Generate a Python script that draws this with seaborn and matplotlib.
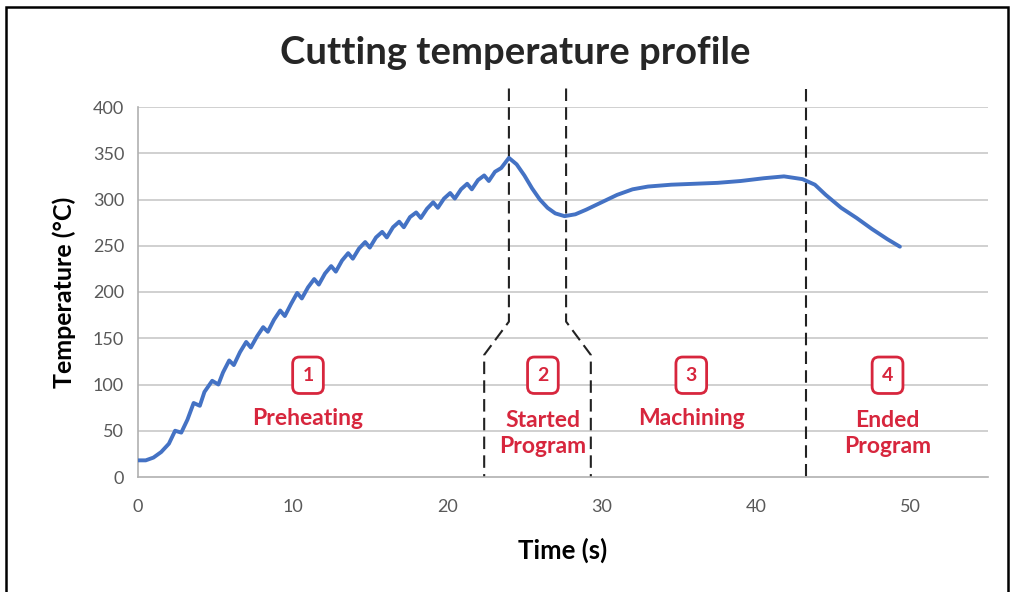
import numpy as np
import pandas as pd
import matplotlib
matplotlib.use('Agg')
import matplotlib.pyplot as plt
import seaborn as sns
from matplotlib.patches import Rectangle

# 데이터
time_s = [0, 0.5, 1, 1.5, 2, 2.4, 2.8, 3.2, 3.6, 4.0, 4.3, 4.8, 5.2, 5.5, 5.9, 6.2, 6.6, 7.0, 7.3,
          7.7, 8.1, 8.4, 8.8, 9.2, 9.5, 9.9, 10.3, 10.6, 11.0, 11.4, 11.7, 12.1, 12.5, 12.8,
          13.2, 13.6, 13.9, 14.3, 14.7, 15.0, 15.4, 15.8, 16.1, 16.5, 16.9, 17.2, 17.6, 18.0,
          18.3, 18.7, 19.1, 19.4, 19.8, 20.2, 20.5, 20.9, 21.3, 21.6, 22.0, 22.4, 22.7, 23.1,
          23.5, 24.0, 24.5, 25.0, 25.5, 26.0, 26.5, 27.0, 27.6, 28.3, 29.0, 30.0, 31.0, 32.0,
          33.0, 34.5, 36.0, 37.5, 39.0, 40.5, 41.8, 43.0, 43.8, 44.5, 45.5, 46.5, 47.5, 48.5, 49.3]
temp_c = [18, 18, 21, 27, 36, 50, 48, 62, 80, 77, 92, 104, 100, 113, 126, 121, 135, 146, 140,
          152, 162, 157, 170, 180, 174, 187, 199, 193, 205, 214, 208, 220, 228, 222, 234, 242,
          236, 247, 254, 248, 259, 265, 259, 270, 276, 270, 281, 286, 280, 290, 297, 291, 301,
          307, 301, 311, 317, 311, 321, 326, 320, 330, 334, 345, 338, 326, 312, 300, 291, 285,
          282, 284, 289, 297, 305, 311, 314, 316, 317, 318, 320, 323, 325, 322, 316, 305, 291,
          280, 268, 257, 249]

phase_x = [11.0, 26.2, 35.8, 48.5]
phase_num = ['1', '2', '3', '4']
phase_name = ['Preheating', 'Started\nProgram', 'Machining', 'Ended\nProgram']

# 구간 경계선 (꺾인 점선 포함)
bound_a_x = [24.0, 24.0, 22.4, 22.4]
bound_a_y = [420, 168, 132, 0]
bound_b_x = [27.7, 27.7, 29.3, 29.3]
bound_b_y = [420, 168, 132, 0]
bound_c_x = [43.2, 43.2]
bound_c_y = [420, 0]

df = pd.DataFrame({'Time': time_s, 'Temp': temp_c})

sns.set_style('white')
plt.rcParams['font.family'] = ['Lato', 'DejaVu Sans']

fig = plt.figure(figsize=(10.15, 5.92), dpi=100)
ax = fig.add_axes([138 / 1015, 1 - 477 / 592, 850 / 1015, 370 / 592])

for yv in range(50, 401, 50):
    ax.axhline(yv, color='#c8c8c8', lw=1.2, zorder=0)

sns.lineplot(data=df, x='Time', y='Temp', ax=ax, color='#4472C4', lw=2.8, zorder=3)

for bx, by in [(bound_a_x, bound_a_y), (bound_b_x, bound_b_y), (bound_c_x, bound_c_y)]:
    ax.plot(bx, by, color='#222222', lw=1.5, ls=(0, (6, 3)), clip_on=False, zorder=2)

red = '#d7263d'
for px, num, name in zip(phase_x, phase_num, phase_name):
    ax.text(px, 110, num, color=red, fontsize=14, fontweight='bold', ha='center', va='center',
            bbox=dict(boxstyle='round,pad=0.5,rounding_size=0.35', fc='white', ec=red, lw=2))
    if '\n' in name:
        ax.text(px, 47, name, color=red, fontsize=16.5, fontweight='bold', ha='center', va='center',
                linespacing=1.3)
    else:
        ax.text(px, 63, name, color=red, fontsize=16.5, fontweight='bold', ha='center', va='center')

ax.set_xlim(0, 55)
ax.set_ylim(0, 400)
ax.set_xticks([0, 10, 20, 30, 40, 50])
ax.set_yticks(range(0, 401, 50))
ax.tick_params(axis='both', colors='#595959', labelsize=13, length=4, width=1)
ax.tick_params(axis='x', pad=12)
ax.tick_params(axis='y', pad=6)
for s in ['top', 'right']:
    ax.spines[s].set_visible(False)
for s in ['left', 'bottom']:
    ax.spines[s].set_color('#b0b0b0')
    ax.spines[s].set_linewidth(1.2)

ax.set_xlabel('Time (s)', fontsize=18.5, fontweight='bold', color='black', labelpad=16)
ax.set_ylabel('Temperature (°C)', fontsize=18, fontweight='bold', color='black', labelpad=12)
fig.text(515 / 1015, 1 - 53 / 592, 'Cutting temperature profile', fontsize=27.5, fontweight='bold',
         ha='center', va='center')

fig.patches.append(Rectangle((6 / 1015, -0.05), 1002 / 1015, 1.05 - 7 / 592, transform=fig.transFigure,
                             fill=False, ec='black', lw=1.8))

fig.savefig('out.png', dpi=100)
